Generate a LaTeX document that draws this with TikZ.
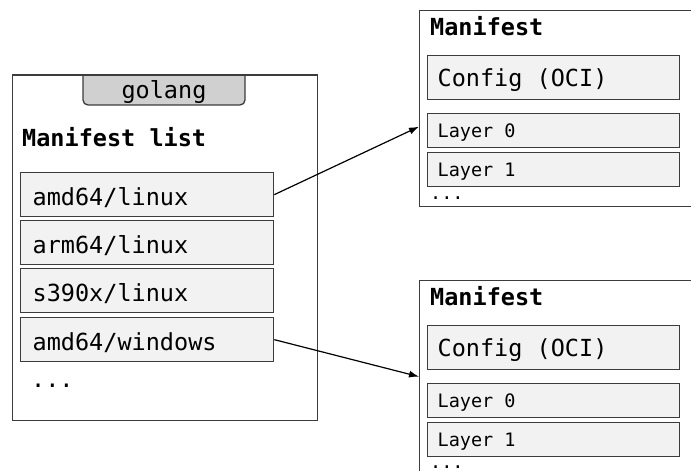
\documentclass[tikz,border=0pt]{standalone}
\usepackage{fontspec}
\setmonofont{DejaVu Sans Mono}
\usepackage{tikz}
\usetikzlibrary{arrows.meta,calc}

\definecolor{edgegray}{HTML}{3C3C3C}
\definecolor{entryfill}{HTML}{F2F2F2}
\definecolor{tabfill}{HTML}{D0D0D0}

\begin{document}
\begin{tikzpicture}[x=1pt,y=-1pt]
			\tikzstyle{Frame}	= [draw=edgegray, line width=1.3pt, anchor=north west, inner sep=0pt]
			\tikzstyle{Big}		= [font=\ttfamily\fontsize{23.5}{28}\selectfont]
			\tikzstyle{Small}	= [font=\ttfamily\fontsize{18.5}{22}\selectfont]
			\tikzstyle{Title}	= [font=\ttfamily\bfseries\fontsize{23.5}{28}\selectfont, anchor=base west, inner sep=0pt]
			\tikzstyle{Entry}	= [draw=edgegray, fill=entryfill, line width=1.3pt, anchor=north west, align=left, inner ysep=0pt, text depth=0pt, execute at begin node={\spaceskip=0pt\xspaceskip=0pt\relax}]
			\tikzstyle{Arch}	= [Entry, Big, inner xsep=12pt, text width=229pt, minimum height=44pt, text height=21pt]
			\tikzstyle{Cfg}		= [Entry, Big, inner xsep=10pt, text width=232pt, minimum height=44pt, text height=18pt]
			\tikzstyle{Lyr}		= [Entry, Small, inner xsep=10pt, text width=232pt, minimum height=34pt, text height=14pt]
			\tikzstyle{Dots}	= [anchor=base west, inner sep=0pt]
			\tikzstyle{Link}	= [-{Latex[length=10pt,width=7pt]}, line width=1.2pt, black]

			\useasboundingbox (0,0) rectangle (691,471);

			% manifest list
			\node (list) at (12,75) [Frame, minimum width=305pt, minimum height=345pt] {};
			\filldraw [draw=edgegray, fill=tabfill, line width=1.3pt] (83,75) [rounded corners=5pt] -- (83,105) -- (245,105) [sharp corners] -- (245,75);
			\draw [edgegray, line width=1.3pt] (list.north west) -- (list.north east);
			\node (tag) at (164,98) [Big, anchor=base, inner sep=0pt] {golang};
			\node (ltitle) at (22,146) [Title] {Manifest list};

			\node (amdlinux) at (20,172) [Arch] {amd64/linux};
			\node (armlinux) at (20,220) [Arch] {arm64/linux};
			\node (s390x) at (20,268) [Arch] {s390x/linux};
			\node (amdwin) at (20,317) [Arch] {amd64/windows};
			\node (lmore) at (31,387) [Dots, Big] {...};

			% first manifest
			\node (ma) at (419,10) [Frame, minimum width=300pt, minimum height=196pt] {};
			\node (mat) at (430,35) [Title] {Manifest};
			\node (ca) at (427,55) [Cfg] {Config (OCI)};
			\node (la0) at (427,113) [Lyr] {Layer 0};
			\node (la1) at (427,152) [Lyr] {Layer 1};
			\node (amore) at (430,199) [Dots, Small] {...};

			% second manifest
			\node (mb) at (419,280) [Frame, minimum width=300pt, minimum height=220pt] {};
			\node (mbt) at (430,305) [Title] {Manifest};
			\node (cb) at (427,325) [Cfg] {Config (OCI)};
			\node (lb0) at (427,383) [Lyr] {Layer 0};
			\node (lb1) at (427,422) [Lyr] {Layer 1};
			\node (bmore) at (430,468) [Dots, Small] {...};

			\draw [Link] (amdlinux.east) -- ([yshift=4pt]ma.west |- la0.west);
			\draw [Link] (amdwin.east) -- (mb.west |- {$(cb.south)!0.5!(lb0.north)$});
		\end{tikzpicture}
\end{document}
